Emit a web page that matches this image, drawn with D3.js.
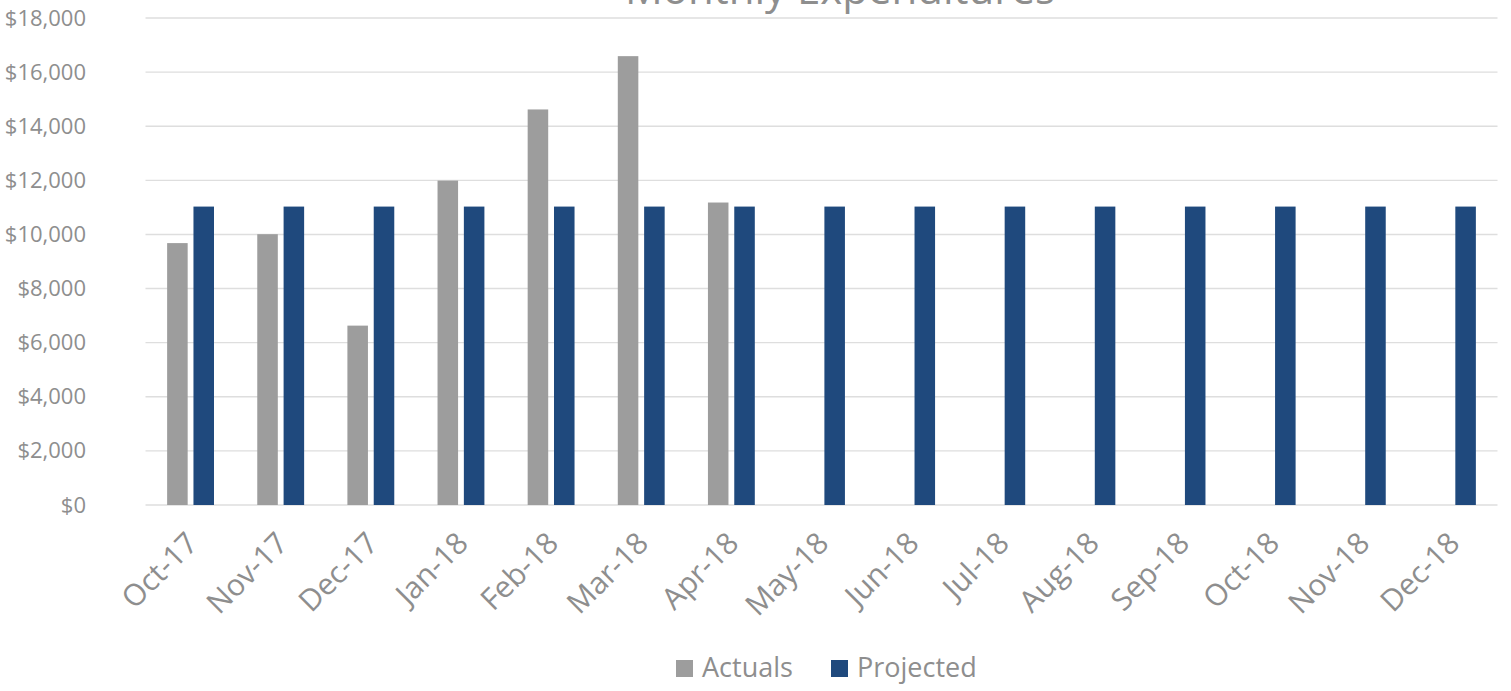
<!DOCTYPE html>
<html>
<head>
<meta charset="utf-8">
<script src="https://cdn.jsdelivr.net/npm/d3@7"></script>
<style>
  html, body { margin: 0; padding: 0; background: #ffffff; }
  svg { display: block; }
  text { font-family: "Open Sans", "Noto Sans", sans-serif; fill: #8e8e8e; }
</style>
</head>
<body>
<svg id="chart" width="1511" height="691"></svg>
<script>
// Months on the category axis
const months = ["Oct-17", "Nov-17", "Dec-17", "Jan-18", "Feb-18", "Mar-18", "Apr-18",
  "May-18", "Jun-18", "Jul-18", "Aug-18", "Sep-18", "Oct-18", "Nov-18", "Dec-18"];

// Spending recorded so far (no actuals yet from May-18 on)
const actuals = [9680, 10010, 6630, 11990, 14620, 16590, 11180,
  null, null, null, null, null, null, null, null];

// Budgeted monthly spend
const projected = [11030, 11030, 11030, 11030, 11030, 11030, 11030,
  11030, 11030, 11030, 11030, 11030, 11030, 11030, 11030];

const seriesNames = ["Actuals", "Projected"];
const seriesColors = ["#9d9d9d", "#1f497d"];
const yTicks = [0, 2000, 4000, 6000, 8000, 10000, 12000, 14000, 16000, 18000];
const chartTitle = "Monthly Expenditures";

const svg = d3.select("#chart");
const plot = { left: 145.5, right: 1497.5, top: 18, bottom: 505 };

const x = d3.scaleBand()
  .domain(months)
  .range([plot.left, plot.right])
  .paddingInner(0.48)
  .paddingOuter(0.24);

const xs = d3.scaleBand()
  .domain(seriesNames)
  .range([0, x.bandwidth()])
  .paddingInner(0.22);

const y = d3.scaleLinear()
  .domain([0, 18000])
  .range([plot.bottom, plot.top]);

const color = d3.scaleOrdinal().domain(seriesNames).range(seriesColors);

// Horizontal gridlines
svg.append("g")
  .selectAll("line")
  .data(yTicks)
  .join("line")
  .attr("x1", plot.left)
  .attr("x2", plot.right)
  .attr("y1", d => y(d))
  .attr("y2", d => y(d))
  .attr("stroke", "#dedede")
  .attr("stroke-width", 1.4);

// Y axis labels
const yAxis = d3.axisLeft(y)
  .tickValues(yTicks)
  .tickSize(0)
  .tickPadding(0)
  .tickFormat(d => "$" + d3.format(",")(d));

svg.append("g")
  .attr("transform", `translate(86,0)`)
  .call(yAxis)
  .call(g => g.select(".domain").remove())
  .call(g => g.selectAll("text")
    .attr("font-size", 22)
    .attr("fill", "#8e8e8e")
    .style("font-family", "'Open Sans', sans-serif"));

// Bars
const rows = months.map((m, i) => ({ month: m, values: [actuals[i], projected[i]] }));

const groups = svg.append("g")
  .selectAll("g")
  .data(rows)
  .join("g")
  .attr("transform", d => `translate(${x(d.month)},0)`);

groups.selectAll("rect")
  .data(d => seriesNames.map((s, k) => ({ key: s, value: d.values[k] })).filter(v => v.value != null))
  .join("rect")
  .attr("x", d => xs(d.key))
  .attr("width", xs.bandwidth())
  .attr("y", d => y(d.value))
  .attr("height", d => y(0) - y(d.value))
  .attr("fill", d => color(d.key));

// Category labels, rotated
const xAxis = d3.axisBottom(x).tickSize(0).tickPadding(0);
svg.append("g")
  .attr("transform", `translate(0,${plot.bottom})`)
  .call(xAxis)
  .call(g => g.select(".domain").remove())
  .call(g => g.selectAll("text")
    .attr("font-size", 30)
    .attr("fill", "#8e8e8e")
    .style("font-family", "'Open Sans', sans-serif")
    .attr("text-anchor", "end")
    .attr("dy", 0)
    .attr("y", 0)
    .attr("transform", "translate(9,40) rotate(-45)"));

// Title
svg.append("text")
  .attr("x", 840)
  .attr("y", 4)
  .attr("text-anchor", "middle")
  .attr("font-size", 42)
  .text(chartTitle);

// Legend
const legendX = [676, 831];
const legend = svg.append("g")
  .selectAll("g")
  .data(seriesNames)
  .join("g")
  .attr("transform", (d, i) => `translate(${legendX[i]},660)`);

legend.append("rect")
  .attr("width", 17)
  .attr("height", 17)
  .attr("fill", d => color(d));

legend.append("text")
  .attr("x", 26)
  .attr("y", 17)
  .attr("font-size", 27)
  .text(d => d);
</script>
</body>
</html>
